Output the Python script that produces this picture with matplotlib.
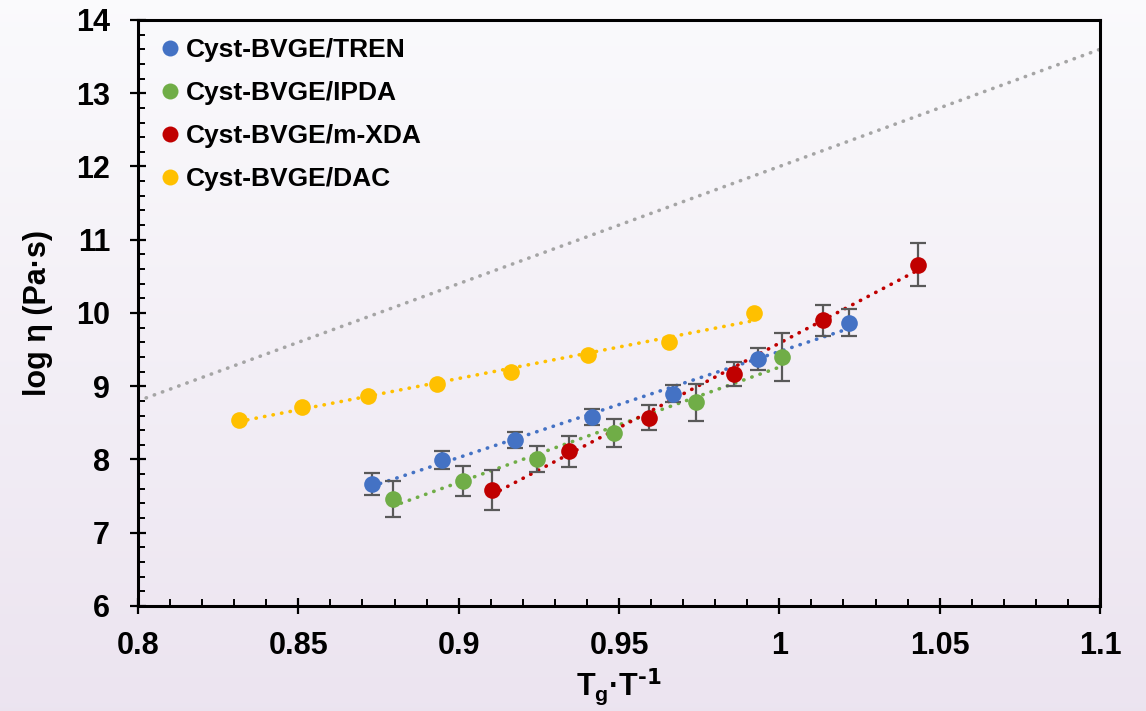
import numpy as np
import matplotlib
matplotlib.use('Agg')
import matplotlib.pyplot as plt
from matplotlib.ticker import MultipleLocator
from matplotlib.lines import Line2D

plt.rcParams['font.family'] = ['Liberation Sans', 'DejaVu Sans']
plt.rcParams['font.weight'] = 'bold'

# Tg/T and log viscosity for each network
tren_x = [0.873, 0.8947, 0.9176, 0.9415, 0.9667, 0.9934, 1.0216]
tren_y = [7.67, 7.99, 8.27, 8.58, 8.90, 9.37, 9.87]
tren_err = [0.15, 0.12, 0.11, 0.105, 0.115, 0.15, 0.19]

ipda_x = [0.8795, 0.9013, 0.9243, 0.9484, 0.9739, 1.0008]
ipda_y = [7.46, 7.70, 8.01, 8.36, 8.78, 9.40]
ipda_err = [0.25, 0.205, 0.18, 0.195, 0.25, 0.33]

mxda_x = [0.9105, 0.9343, 0.9593, 0.9858, 1.0137, 1.0432]
mxda_y = [7.58, 8.11, 8.57, 9.17, 9.90, 10.66]
mxda_err = [0.275, 0.215, 0.17, 0.165, 0.21, 0.29]

dac_x = [0.8315, 0.8511, 0.8717, 0.8932, 0.9163, 0.9403, 0.9656, 0.9921]
dac_y = [8.54, 8.72, 8.87, 9.03, 9.19, 9.43, 9.60, 10.00]

# strong-liquid reference line (m = 16)
ref_x = [0.8, 1.1]
ref_y = [8.8, 13.6]

series = [
    ('Cyst-BVGE/TREN', tren_x, tren_y, tren_err, '#4472C4'),
    ('Cyst-BVGE/IPDA', ipda_x, ipda_y, ipda_err, '#70AD47'),
    ('Cyst-BVGE/m-XDA', mxda_x, mxda_y, mxda_err, '#C00000'),
    ('Cyst-BVGE/DAC', dac_x, dac_y, None, '#FFC000'),
]

fig = plt.figure(figsize=(11.46, 7.11), dpi=100)

# soft vertical gradient behind everything
bg = fig.add_axes([0, 0, 1, 1], zorder=-10)
grad = np.linspace(0, 1, 256).reshape(-1, 1)
top = np.array([0.982, 0.982, 0.990])
bot = np.array([0.925, 0.894, 0.941])
img = top + (bot - top) * grad[..., None]
bg.imshow(img, aspect='auto', extent=[0, 1, 0, 1])
bg.axis('off')

ax = fig.add_axes([0.1204, 0.1477, 0.8395, 0.8242])
ax.set_facecolor('none')

dots = dict(linestyle=(0, (0.1, 2.3)), dash_capstyle='round', lw=2.6)

ax.plot(ref_x, ref_y, color='#A5A5A5', zorder=1, **dots)

handles = []
for name, x, y, err, c in series:
    k, b = np.polyfit(x, y, 1)
    xs = np.array([x[0], x[-1]])
    ax.plot(xs, k * xs + b, color=c, zorder=2, **dots)
    if err is not None:
        ax.errorbar(x, y, yerr=err, fmt='none', ecolor='#595959',
                    elinewidth=1.6, capsize=5.5, capthick=1.6, zorder=3)
    ax.plot(x, y, 'o', color=c, ms=12, mec='none', zorder=4)
    handles.append(Line2D([], [], marker='o', ls='none', color=c,
                          ms=11.5, mec='none', label=name))

ax.set_xlim(0.8, 1.1)
ax.set_ylim(6, 14)
ax.xaxis.set_minor_locator(MultipleLocator(0.01))
ax.yaxis.set_major_locator(MultipleLocator(1))
ax.yaxis.set_minor_locator(MultipleLocator(0.2))
xt = [0.8, 0.85, 0.9, 0.95, 1.0, 1.05, 1.1]
ax.set_xticks(xt)
ax.set_xticklabels(['0.8', '0.85', '0.9', '0.95', '1', '1.05', '1.1'])

ax.tick_params(which='major', direction='inout', length=12, width=1.6,
               labelsize=22, color='black')
ax.tick_params(axis='x', which='major', pad=12)
ax.tick_params(axis='y', which='major', pad=14)
ax.tick_params(which='minor', direction='in', length=5, width=1.4)
for s in ax.spines.values():
    s.set_linewidth(2.2)

ax.set_xlabel(r'T$_\mathregular{g}$·T$^{\text{-1}}$', fontsize=22,
              fontweight='bold', labelpad=4)
ax.set_ylabel('log η (Pa·s)', fontsize=22, fontweight='bold', labelpad=17)

ax.legend(handles=handles, loc='upper left', frameon=False, fontsize=19,
          handlelength=0.6, handletextpad=0.3, labelspacing=0.72,
          borderaxespad=0.3, bbox_to_anchor=(0.006, 1.0))

fig.savefig('out.png', dpi=100)
